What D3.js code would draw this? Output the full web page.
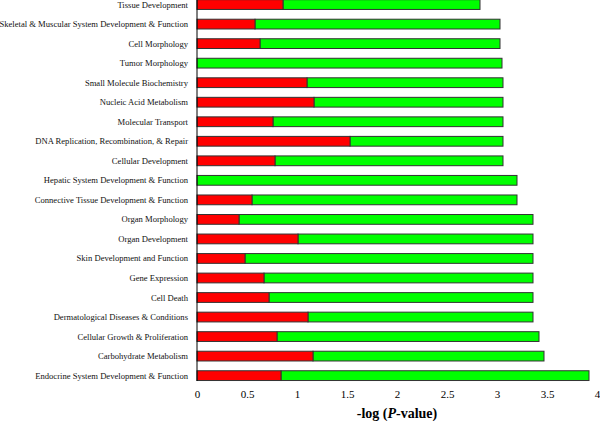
<!DOCTYPE html>
<html>
<head>
<meta charset="utf-8">
<script src="https://cdn.jsdelivr.net/npm/d3@7"></script>
<style>
  html, body { margin: 0; padding: 0; background: #fff; }
  svg { display: block; }
</style>
</head>
<body>
<div id="chart"></div>
<script>
const categories = [
  "Tissue Development",
  "Skeletal & Muscular System Development & Function",
  "Cell Morphology",
  "Tumor Morphology",
  "Small Molecule Biochemistry",
  "Nucleic Acid Metabolism",
  "Molecular Transport",
  "DNA Replication, Recombination, & Repair",
  "Cellular Development",
  "Hepatic System Development & Function",
  "Connective Tissue Development & Function",
  "Organ Morphology",
  "Organ Development",
  "Skin Development and Function",
  "Gene Expression",
  "Cell Death ",
  "Dermatological Diseases & Conditions",
  "Cellular Growth & Proliferation",
  "Carbohydrate Metabolism",
  "Endocrine System Development & Function"
];
// red portion (start segment)
const redValues = [0.86, 0.58, 0.63, 0, 1.10, 1.17, 0.76, 1.53, 0.78, 0, 0.55, 0.42, 1.01, 0.48, 0.67, 0.72, 1.11, 0.80, 1.16, 0.84];
// total bar length -log(P-value)
const totalValues = [2.83, 3.03, 3.03, 3.05, 3.06, 3.06, 3.06, 3.06, 3.06, 3.20, 3.20, 3.36, 3.36, 3.36, 3.36, 3.36, 3.36, 3.42, 3.47, 3.92];
const xTicks = [0, 0.5, 1, 1.5, 2, 2.5, 3, 3.5, 4];

const W = 600, H = 421;
const svg = d3.select("#chart").append("svg").attr("width", W).attr("height", H);

const x = d3.scaleLinear().domain([0, 4]).range([197, 597]);
const y = d3.scaleBand().domain(categories).range([-5.2, 385.4]).paddingInner(0.5).paddingOuter(0.25);

const font = "'Liberation Serif', 'Times New Roman', 'DejaVu Serif', serif";

const rows = categories.map((c, i) => ({ c, red: redValues[i], total: totalValues[i] }));

// green segments
svg.append("g").selectAll("rect").data(rows).join("rect")
  .attr("x", d => x(d.red))
  .attr("y", d => y(d.c))
  .attr("width", d => x(d.total) - x(d.red))
  .attr("height", y.bandwidth())
  .attr("fill", "#00ff00")
  .attr("stroke", "#333")
  .attr("stroke-width", 1);

// red segments
svg.append("g").selectAll("rect").data(rows.filter(d => d.red > 0)).join("rect")
  .attr("x", x(0))
  .attr("y", d => y(d.c))
  .attr("width", d => x(d.red) - x(0))
  .attr("height", y.bandwidth())
  .attr("fill", "#ff0000")
  .attr("stroke", "#333")
  .attr("stroke-width", 1);

// category labels
svg.append("g").selectAll("text").data(categories).join("text")
  .attr("x", 188)
  .attr("y", d => y(d) + y.bandwidth() / 2)
  .attr("dy", "0.35em")
  .attr("text-anchor", "end")
  .style("font-family", font)
  .style("font-size", "8.6px")
  .attr("fill", "#111")
  .text(d => d);

// y axis line
svg.append("line")
  .attr("x1", x(0)).attr("x2", x(0))
  .attr("y1", 0).attr("y2", 381)
  .attr("stroke", "#000").attr("stroke-width", 1);

// x tick labels (no axis line)
const xAxis = d3.axisBottom(x).tickValues(xTicks).tickSize(0).tickPadding(0)
  .tickFormat(d => String(d));
const gx = svg.append("g").attr("transform", "translate(0,390)").call(xAxis);
gx.select(".domain").remove();
gx.selectAll("text").style("font-family", font).style("font-size", "11px").attr("fill", "#000");

// axis title
const title = svg.append("text")
  .attr("x", x(2))
  .attr("y", 418)
  .attr("text-anchor", "middle")
  .style("font-family", font)
  .style("font-size", "14px")
  .style("font-weight", "bold")
  .attr("fill", "#000");
title.append("tspan").text("-log (");
title.append("tspan").style("font-style", "italic").text("P");
title.append("tspan").text("-value)");
</script>
</body>
</html>
